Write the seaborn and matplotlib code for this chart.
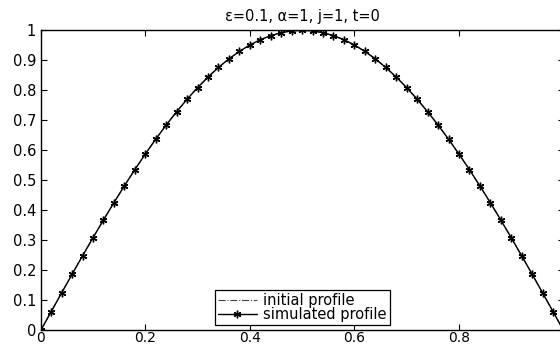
import matplotlib
matplotlib.use("Agg")
import matplotlib.pyplot as plt
import seaborn as sns
import pandas as pd

x_vals = [0.00, 0.02, 0.04, 0.06, 0.08, 0.10, 0.12, 0.14, 0.16, 0.18,
          0.20, 0.22, 0.24, 0.26, 0.28, 0.30, 0.32, 0.34, 0.36, 0.38,
          0.40, 0.42, 0.44, 0.46, 0.48, 0.50, 0.52, 0.54, 0.56, 0.58,
          0.60, 0.62, 0.64, 0.66, 0.68, 0.70, 0.72, 0.74, 0.76, 0.78,
          0.80, 0.82, 0.84, 0.86, 0.88, 0.90, 0.92, 0.94, 0.96, 0.98, 1.00]

initial_profile = [0.0000, 0.0628, 0.1253, 0.1874, 0.2487, 0.3090, 0.3681, 0.4258, 0.4818, 0.5358,
                   0.5878, 0.6374, 0.6845, 0.7290, 0.7705, 0.8090, 0.8443, 0.8763, 0.9048, 0.9298,
                   0.9511, 0.9686, 0.9823, 0.9921, 0.9980, 1.0000, 0.9980, 0.9921, 0.9823, 0.9686,
                   0.9511, 0.9298, 0.9048, 0.8763, 0.8443, 0.8090, 0.7705, 0.7290, 0.6845, 0.6374,
                   0.5878, 0.5358, 0.4818, 0.4258, 0.3681, 0.3090, 0.2487, 0.1874, 0.1253, 0.0628, 0.0000]

simulated_profile = [0.0000, 0.0628, 0.1253, 0.1874, 0.2487, 0.3090, 0.3681, 0.4258, 0.4818, 0.5358,
                     0.5878, 0.6374, 0.6845, 0.7290, 0.7705, 0.8090, 0.8443, 0.8763, 0.9048, 0.9298,
                     0.9511, 0.9686, 0.9823, 0.9921, 0.9980, 1.0000, 0.9980, 0.9921, 0.9823, 0.9686,
                     0.9511, 0.9298, 0.9048, 0.8763, 0.8443, 0.8090, 0.7705, 0.7290, 0.6845, 0.6374,
                     0.5878, 0.5358, 0.4818, 0.4258, 0.3681, 0.3090, 0.2487, 0.1874, 0.1253, 0.0628, 0.0000]

x_ticks = [0, 0.2, 0.4, 0.6, 0.8]
x_tick_labels = ["0", "0.2", "0.4", "0.6", "0.8"]
y_ticks = [0, 0.1, 0.2, 0.3, 0.4, 0.5, 0.6, 0.7, 0.8, 0.9, 1.0]
y_tick_labels = ["0", "0.1", "0.2", "0.3", "0.4", "0.5", "0.6", "0.7", "0.8", "0.9", "1"]
title = "ε=0.1, α=1, j=1, t=0"

sns.set_style("ticks")
plt.rcParams["font.family"] = ["DejaVu Sans"]
plt.rcParams["font.size"] = 10.5
plt.rcParams["text.color"] = "black"
plt.rcParams["axes.labelcolor"] = "black"
plt.rcParams["xtick.color"] = "black"
plt.rcParams["ytick.color"] = "black"

df = pd.DataFrame({"x": x_vals, "initial": initial_profile, "simulated": simulated_profile})

fig = plt.figure(figsize=(5.6, 3.46), dpi=100)
ax = fig.add_axes([0.0727, 0.0448, 1.0063 - 0.0727, 0.9124 - 0.0448])

sns.lineplot(data=df, x="x", y="initial", ax=ax, color="#444444", linestyle="-.",
             linewidth=0.8, label="initial profile")
sns.lineplot(data=df, x="x", y="simulated", ax=ax, color="black", linewidth=1.0,
             marker=(6, 2, 0), markersize=5.5, markeredgewidth=1.0,
             markeredgecolor="black", label="simulated profile")

ax.set_xlim(0, 1)
ax.set_ylim(0, 1)
ax.set_xticks(x_ticks)
ax.set_xticklabels(x_tick_labels)
ax.set_yticks(y_ticks)
ax.set_yticklabels(y_tick_labels)
ax.set_xlabel("")
ax.set_ylabel("")
ax.set_title(title, fontsize=10.5, pad=7, color="black")

for s in ax.spines.values():
    s.set_visible(True)
    s.set_color("black")
    s.set_linewidth(1.0)
ax.tick_params(direction="in", length=4, width=0.8, top=True, right=True,
               labelsize=10.5, colors="black")
ax.tick_params(axis="y", pad=3.3)
ax.tick_params(axis="x", pad=0.5, labelsize=10)

leg = ax.legend(loc="lower center", bbox_to_anchor=(0.5, 0.0), borderaxespad=0.35,
                fancybox=False, edgecolor="black", framealpha=1, fontsize=10.5,
                handlelength=2.7, handletextpad=0.4, labelspacing=-0.08, borderpad=0.22)
leg.get_frame().set_linewidth(0.9)
for t in leg.get_texts():
    t.set_color("black")

fig.savefig("out.png", dpi=100)
